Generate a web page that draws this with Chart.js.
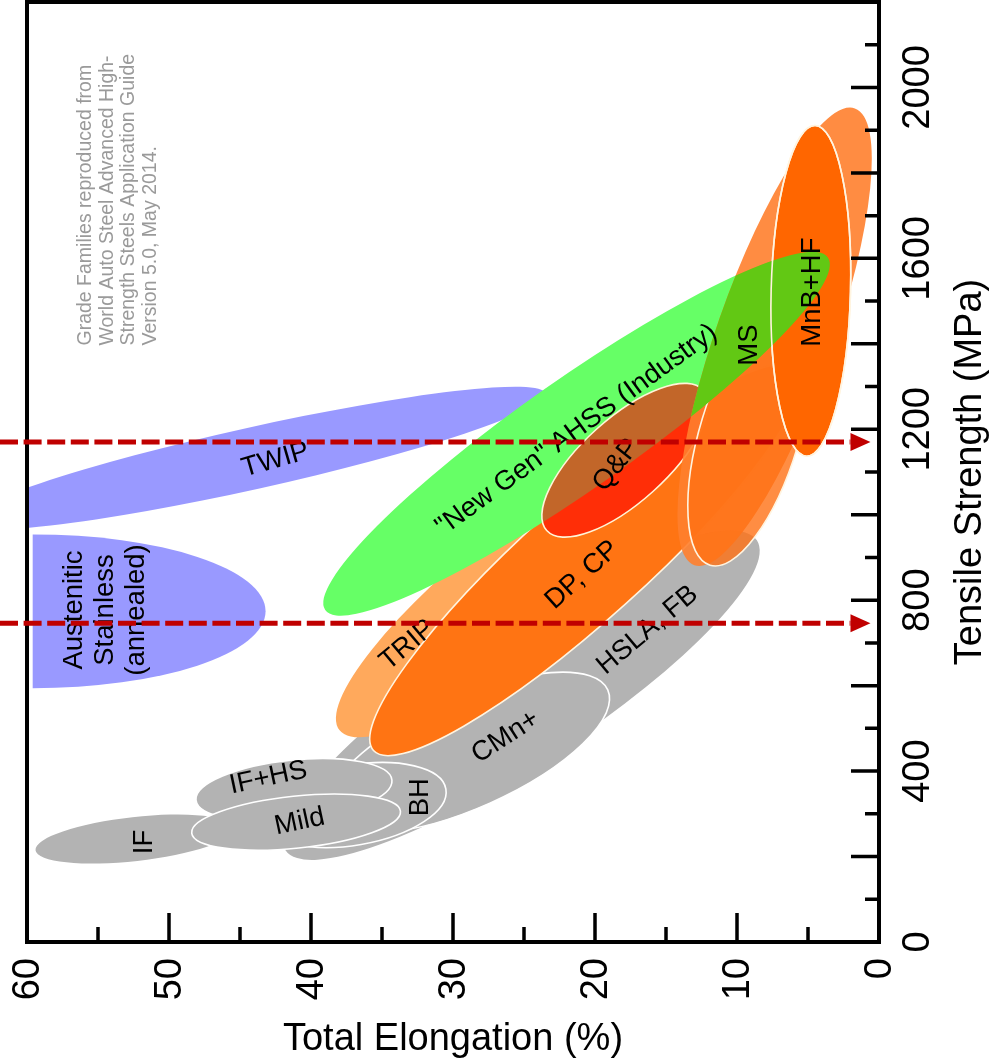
<!DOCTYPE html>
<html>
<head>
<meta charset="utf-8">
<script src="https://cdn.jsdelivr.net/npm/chart.js@4.4.1/dist/chart.umd.min.js"></script>
<style>
  html, body { margin: 0; padding: 0; background: #fff; }
  #wrap { width: 998px; height: 1062px; }
</style>
</head>
<body>
<div id="wrap"><canvas id="chart" width="998" height="1062"></canvas></div>
<script>
// grade family envelopes: ends of the band (elongation %, tensile MPa) and band width ratio
const families   = ['HSLA, FB', 'CMn+', 'IF', 'BH', 'IF+HS', 'Mild', 'TWIP', 'TRIP', 'DP, CP', 'New Gen', 'Q&P', 'MS range', 'MS', 'MnB+HF'];
const elongStart = [41.8, 38.8, 59.4, 43.4, 48.1, 48.4, 64.7, 38.0, 35.6, 39.0, 23.4, 13.0, 11.9, 5.1];
const tensStart  = [215, 297, 215, 283, 332, 255, 980, 496, 448, 777, 963, 882, 882, 1137];
const elongEnd   = [8.6, 19.1, 45.4, 30.5, 34.3, 33.7, 23.5, 9.1, 5.8, 3.6, 12.4, 1.7, 6.3, 4.5];
const tensEnd    = [940, 590, 267, 358, 379, 306, 1284, 1245, 1340, 1602, 1292, 1951, 1500, 1911];
const bandWidth  = [0.237, 0.36, 0.22, 0.43, 0.306, 0.248, 0.103, 0.238, 0.21, 0.179, 0.4, 0.24, 0.36, 0.24];

// austenitic stainless (annealed) block
const austElong   = [43.2, 59.6];
const austTensile = [594, 954];

// family labels
const labelText  = ['IF', 'Mild', 'IF+HS', 'BH', 'CMn+', 'HSLA, FB', 'TRIP', 'DP, CP', '"New Gen" AHSS (Industry)', 'Q&P', 'MS', 'MnB+HF', 'TWIP', 'Austenitic\nStainless\n(annealed)'];
const labelElong = [51.7, 40.8, 43.0, 32.3, 26.3, 16.3, 33.2, 20.9, 21.3, 18.5, 9.1, 4.7, 42.5, 54.5];
const labelTens  = [234, 281, 384, 339, 480, 730, 695, 859, 1198, 1116, 1397, 1521, 1128, 777];

// reference strength levels (dashed arrows)
const refTensile = [1170, 746];
const arrowTipElong = 0.6;

const elongTicks   = [0, 10, 20, 30, 40, 50, 60];
const tensileTicks = [0, 400, 800, 1200, 1600, 2000];

const note = ['Grade Families reproduced from', 'World Auto Steel Advanced High-', 'Strength Steels Application Guide', 'Version 5.0, May 2014.'];

const FONT = "'Liberation Sans', Arial, sans-serif";
const GRAY = '#b3b3b3';

const familyStyle = {
    'HSLA, FB': { fill: GRAY },
    'CMn+':     { fill: GRAY, stroke: '#ffffff' },
    'IF':       { fill: GRAY },
    'BH':       { fill: GRAY, stroke: '#ffffff' },
    'IF+HS':    { fill: GRAY, stroke: '#ffffff' },
    'Mild':     { fill: GRAY, stroke: '#ffffff' },
    'TWIP':     { fill: '#9999ff' },
    'TRIP':     { fill: '#ffa95c' },
    'DP, CP':   { fill: '#ff7413', stroke: '#fff4e0' },
    'New Gen':  { fill: '#66ff66' },
    'Q&P':      { fill: 'rgba(255,0,0,0.6)', stroke: '#fff4d8' },
    'MS range': { fill: 'rgba(255,128,45,0.9)' },
    'MS':       { fill: 'rgba(255,112,20,0.8)', stroke: '#fff4e0' },
    'MnB+HF':   { fill: '#ff6600', stroke: '#fff4e0' }
};
const overlapFill = '#62c814';
const labelAngle = {
    'IF': -90, 'Mild': -12, 'IF+HS': -12, 'BH': -90, 'CMn+': -33, 'HSLA, FB': -40,
    'TRIP': -40, 'DP, CP': -42, '"New Gen" AHSS (Industry)': -36, 'Q&P': -52,
    'MS': -90, 'MnB+HF': -90, 'TWIP': -16
};

const bananaPlugin = {
    id: 'banana',
    afterDraw(chart) {
        const ctx = chart.ctx;
        const X = chart.scales.x, Y = chart.scales.y;
        const area = chart.chartArea;
        const px = e => X.getPixelForValue(e);
        const py = s => Y.getPixelForValue(s);

        const addEllipse = (i) => {
            const x1 = px(elongStart[i]), y1 = py(tensStart[i]);
            const x2 = px(elongEnd[i]), y2 = py(tensEnd[i]);
            const a = Math.hypot(x2 - x1, y2 - y1) / 2;
            const ang = Math.atan2(y2 - y1, x2 - x1);
            ctx.moveTo((x1 + x2) / 2 + a * Math.cos(ang), (y1 + y2) / 2 + a * Math.sin(ang));
            ctx.ellipse((x1 + x2) / 2, (y1 + y2) / 2, a, a * bandWidth[i], ang, 0, Math.PI * 2);
        };
        const drawFamily = (name) => {
            const i = families.indexOf(name);
            const st = familyStyle[name];
            ctx.beginPath();
            addEllipse(i);
            ctx.fillStyle = st.fill;
            ctx.fill();
            if (st.stroke) {
                ctx.strokeStyle = st.stroke;
                ctx.lineWidth = 1.6;
                ctx.stroke();
            }
        };

        ctx.save();
        ctx.beginPath();
        ctx.rect(area.left, area.top, area.right - area.left, area.bottom - area.top);
        ctx.clip();

        families.forEach((name) => {
            drawFamily(name);
            if (name === 'TWIP') {
                // half-ellipse block, flat side at high elongation
                const cx = px(austElong[1]);
                const rx = px(austElong[0]) - cx;
                const yTop = py(austTensile[1]), yBot = py(austTensile[0]);
                ctx.beginPath();
                ctx.ellipse(cx, (yTop + yBot) / 2, rx, (yBot - yTop) / 2, 0, -Math.PI / 2, Math.PI / 2);
                ctx.closePath();
                ctx.fillStyle = '#9999ff';
                ctx.fill();
            }
        });

        // green band where it crosses the martensitic / hot formed grades
        ctx.save();
        ctx.beginPath();
        addEllipse(families.indexOf('New Gen'));
        ctx.clip();
        ctx.beginPath();
        ['MS range', 'MS', 'MnB+HF'].forEach(n => addEllipse(families.indexOf(n)));
        ctx.fillStyle = overlapFill;
        ctx.fill();
        ctx.restore();
        ctx.beginPath();
        addEllipse(families.indexOf('MnB+HF'));
        ctx.strokeStyle = familyStyle['MnB+HF'].stroke;
        ctx.lineWidth = 1.6;
        ctx.stroke();
        ctx.restore();

        // labels
        ctx.fillStyle = '#000';
        ctx.font = `27.5px ${FONT}`;
        ctx.textAlign = 'center';
        ctx.textBaseline = 'middle';
        labelText.forEach((t, i) => {
            const ang = (labelAngle[t] !== undefined ? labelAngle[t] : -90) * Math.PI / 180;
            const lines = t.split('\n');
            ctx.save();
            ctx.translate(px(labelElong[i]), py(labelTens[i]));
            ctx.rotate(ang);
            lines.forEach((ln, k) => {
                ctx.fillText(ln, 0, (k - (lines.length - 1) / 2) * 31);
            });
            ctx.restore();
        });

        // source note
        ctx.save();
        ctx.fillStyle = '#9a9a9a';
        ctx.font = `19.5px ${FONT}`;
        ctx.textAlign = 'left';
        ctx.textBaseline = 'middle';
        ctx.translate(px(55.85), py(1396));
        ctx.rotate(-Math.PI / 2);
        note.forEach((ln, k) => ctx.fillText(ln, 0, k * 21.5));
        ctx.restore();

        // frame
        ctx.strokeStyle = '#000';
        ctx.lineWidth = 4;
        ctx.strokeRect(area.left, area.top, area.right - area.left, area.bottom - area.top);

        // inward ticks
        ctx.lineWidth = 3.5;
        ctx.beginPath();
        for (let e = 0; e <= 60; e += 5) {
            const len = e % 10 === 0 ? 29 : 15;
            ctx.moveTo(px(e), area.bottom);
            ctx.lineTo(px(e), area.bottom - len);
        }
        for (let s = 0; s <= 2200; s += 100) {
            const len = s % 200 === 0 ? 28 : 14;
            ctx.moveTo(area.right, py(s));
            ctx.lineTo(area.right - len, py(s));
        }
        ctx.stroke();

        // tick labels, rotated
        ctx.fillStyle = '#000';
        ctx.font = `38px ${FONT}`;
        ctx.textBaseline = 'middle';
        elongTicks.forEach(e => {
            ctx.save();
            ctx.translate(px(e) + 2, area.bottom + 16);
            ctx.rotate(-Math.PI / 2);
            ctx.textAlign = 'right';
            ctx.fillText(String(e), 0, 0);
            ctx.restore();
        });
        tensileTicks.forEach(s => {
            ctx.save();
            ctx.translate(area.right + 40, py(s));
            ctx.rotate(-Math.PI / 2);
            ctx.textAlign = 'center';
            ctx.fillText(String(s), 0, 0);
            ctx.restore();
        });

        // axis titles
        ctx.textAlign = 'center';
        ctx.fillText('Total Elongation (%)', (area.left + area.right) / 2, 1040);
        ctx.save();
        ctx.translate(971, (area.top + area.bottom) / 2);
        ctx.rotate(-Math.PI / 2);
        ctx.fillText('Tensile Strength (MPa)', 0, 0);
        ctx.restore();

        // dashed reference arrows
        const tipX = px(arrowTipElong);
        refTensile.forEach(s => {
            const y = py(s);
            ctx.save();
            ctx.strokeStyle = '#c00000';
            ctx.lineWidth = 5;
            ctx.setLineDash([18, 5.6]);
            ctx.beginPath();
            ctx.moveTo(0, y);
            ctx.lineTo(tipX - 20, y);
            ctx.stroke();
            ctx.setLineDash([]);
            ctx.fillStyle = '#c00000';
            ctx.beginPath();
            ctx.moveTo(tipX, y);
            ctx.lineTo(tipX - 20, y - 9);
            ctx.lineTo(tipX - 20, y + 9);
            ctx.closePath();
            ctx.fill();
            ctx.restore();
        });
    }
};

new Chart(document.getElementById('chart'), {
    type: 'scatter',
    data: { datasets: [] },
    options: {
        responsive: false,
        animation: false,
        devicePixelRatio: 1,
        layout: { padding: { left: 27, right: 119, top: 2, bottom: 120 } },
        plugins: { legend: { display: false }, tooltip: { enabled: false } },
        scales: {
            x: { type: 'linear', min: 0, max: 60, reverse: true, display: false },
            y: { type: 'linear', min: 0, max: 2200, display: false }
        }
    },
    plugins: [bananaPlugin]
});
</script>
</body>
</html>
